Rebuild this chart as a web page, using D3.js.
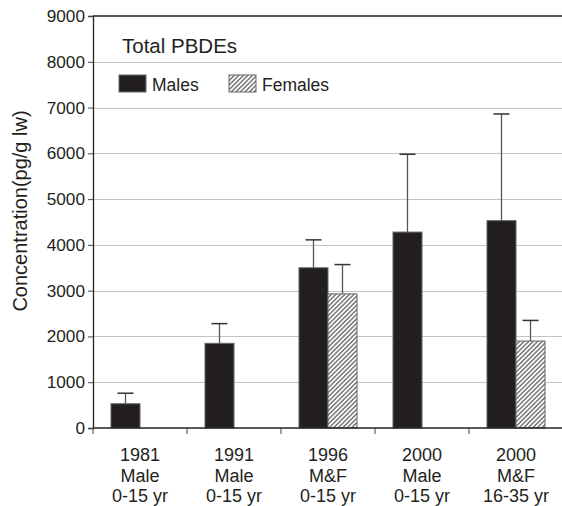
<!DOCTYPE html>
<html>
<head>
<meta charset="utf-8">
<script src="https://cdn.jsdelivr.net/npm/d3@7"></script>
<style>
  body { margin: 0; background: #fff; }
  svg { display: block; font-family: "Liberation Sans", Arial, sans-serif; }
</style>
</head>
<body>
<svg id="chart"></svg>
<script>
// category labels (3 lines each)
const categories = ["1981", "1991", "1996", "2000a", "2000b"];
const catLines = [
  ["1981", "Male", "0-15 yr"],
  ["1991", "Male", "0-15 yr"],
  ["1996", "M&F", "0-15 yr"],
  ["2000", "Male", "0-15 yr"],
  ["2000", "M&F", "16-35 yr"]
];
const groups = ["Males", "Females"];
// means and upper error values (null = no bar)
const malesMean = [530, 1850, 3500, 4280, 4530];
const malesErr  = [760, 2280, 4110, 5980, 6860];
const femalesMean = [null, null, 2930, null, 1900];
const femalesErr  = [null, null, 3570, null, 2350];
const yTicks = [0, 1000, 2000, 3000, 4000, 5000, 6000, 7000, 8000, 9000];

const width = 562, height = 506;
const margin = {top: 16, right: 0, bottom: 78, left: 93};

const svg = d3.select("#chart")
    .attr("width", width)
    .attr("height", height);

const defs = svg.append("defs");
const pat = defs.append("pattern")
    .attr("id", "hatch")
    .attr("patternUnits", "userSpaceOnUse")
    .attr("width", 3.2)
    .attr("height", 3.2)
    .attr("patternTransform", "rotate(45)");
pat.append("rect").attr("width", 3.2).attr("height", 3.2).attr("fill", "#fff");
pat.append("line")
    .attr("x1", 0.8).attr("y1", 0).attr("x2", 0.8).attr("y2", 3.2)
    .attr("stroke", "#444").attr("stroke-width", 1.1);

const x0 = d3.scaleBand()
    .domain(categories)
    .range([margin.left, margin.left + 94 * 5]);

const x1 = d3.scaleBand()
    .domain(groups)
    .range([0, x0.bandwidth()])
    .paddingOuter(0.62);

const y = d3.scaleLinear()
    .domain([0, 9000])
    .range([height - margin.bottom, margin.top]);

// gridlines
svg.append("g")
  .selectAll("line")
  .data(yTicks.filter(d => d > 0 && d < 9000))
  .enter().append("line")
    .attr("x1", margin.left)
    .attr("x2", width)
    .attr("y1", d => Math.round(y(d)) + 0.5)
    .attr("y2", d => Math.round(y(d)) + 0.5)
    .attr("stroke", "#c4c4c4")
    .attr("stroke-width", 1.2);

// top frame
svg.append("line")
    .attr("x1", margin.left).attr("x2", width)
    .attr("y1", y(9000)).attr("y2", y(9000))
    .attr("stroke", "#222").attr("stroke-width", 1.3);

const rows = categories.map((c, i) => [
  {cat: c, key: "Males", v: malesMean[i], e: malesErr[i]},
  {cat: c, key: "Females", v: femalesMean[i], e: femalesErr[i]}
]).flat().filter(d => d.v != null);

// error bars
const eb = svg.append("g").selectAll("g")
  .data(rows)
  .enter().append("g");
eb.append("line")
    .attr("x1", d => x0(d.cat) + x1(d.key) + x1.bandwidth() / 2)
    .attr("x2", d => x0(d.cat) + x1(d.key) + x1.bandwidth() / 2)
    .attr("y1", d => y(d.v))
    .attr("y2", d => y(d.e))
    .attr("stroke", "#555").attr("stroke-width", 1.3);
eb.append("line")
    .attr("x1", d => x0(d.cat) + x1(d.key) + x1.bandwidth() / 2 - 8)
    .attr("x2", d => x0(d.cat) + x1(d.key) + x1.bandwidth() / 2 + 8)
    .attr("y1", d => y(d.e))
    .attr("y2", d => y(d.e))
    .attr("stroke", "#333").attr("stroke-width", 1.5);

// bars
svg.append("g").selectAll("rect")
  .data(rows)
  .enter().append("rect")
    .attr("x", d => x0(d.cat) + x1(d.key))
    .attr("y", d => y(d.v))
    .attr("width", x1.bandwidth())
    .attr("height", d => y(0) - y(d.v))
    .attr("fill", d => d.key == "Males" ? "#231f20" : "url(#hatch)")
    .attr("stroke", "#666")
    .attr("stroke-width", 1);

// y axis
const yAxis = svg.append("g")
    .attr("transform", "translate(" + margin.left + ",0)")
    .call(d3.axisLeft(y).tickValues(yTicks).tickSize(5).tickPadding(3).tickFormat(d3.format("d")));
yAxis.select(".domain").attr("stroke", "#222").attr("stroke-width", 1.3);
yAxis.selectAll(".tick line").attr("stroke", "#444");
yAxis.selectAll("text")
    .attr("font-size", 17.2)
    .attr("font-family", "Liberation Sans, Arial, sans-serif")
    .attr("fill", "#231f20");

// x axis
const xg = svg.append("g")
    .attr("transform", "translate(0," + y(0) + ")");
xg.append("line")
    .attr("x1", margin.left).attr("x2", width)
    .attr("stroke", "#222").attr("stroke-width", 1.3);
xg.selectAll(".xt")
  .data(categories)
  .enter().append("line")
    .attr("class", "xt")
    .attr("x1", d => x0(d)).attr("x2", d => x0(d))
    .attr("y1", 0).attr("y2", 6)
    .attr("stroke", "#444");

const lbl = xg.selectAll(".xl")
  .data(categories)
  .enter().append("text")
    .attr("class", "xl")
    .attr("text-anchor", "middle")
    .attr("font-size", 18)
    .attr("fill", "#231f20");
lbl.selectAll("tspan")
  .data((d, i) => catLines[i].map(t => ({t: t, x: x0(d) + x0.bandwidth() / 2})))
  .enter().append("tspan")
    .attr("x", d => d.x)
    .attr("y", (d, j) => 33 + j * 20.5)
    .text(d => d.t);

// y title
svg.append("text")
    .attr("transform", "translate(27,211) rotate(-90)")
    .attr("text-anchor", "middle")
    .attr("font-size", 20)
    .attr("fill", "#231f20")
    .text("Concentration(pg/g lw)");

// legend
svg.append("text")
    .attr("x", 122).attr("y", 53)
    .attr("font-size", 20.5)
    .attr("fill", "#231f20")
    .text("Total PBDEs");

const leg = svg.append("g").selectAll("g")
  .data(groups)
  .enter().append("g")
    .attr("transform", (d, i) => "translate(" + (119 + i * 110) + ",75)");
leg.append("rect")
    .attr("width", 27).attr("height", 17)
    .attr("fill", d => d == "Males" ? "#231f20" : "url(#hatch)")
    .attr("stroke", "#666");
leg.append("text")
    .attr("x", 33).attr("y", 16)
    .attr("font-size", 17.5)
    .attr("fill", "#231f20")
    .text(d => d);
</script>
</body>
</html>
